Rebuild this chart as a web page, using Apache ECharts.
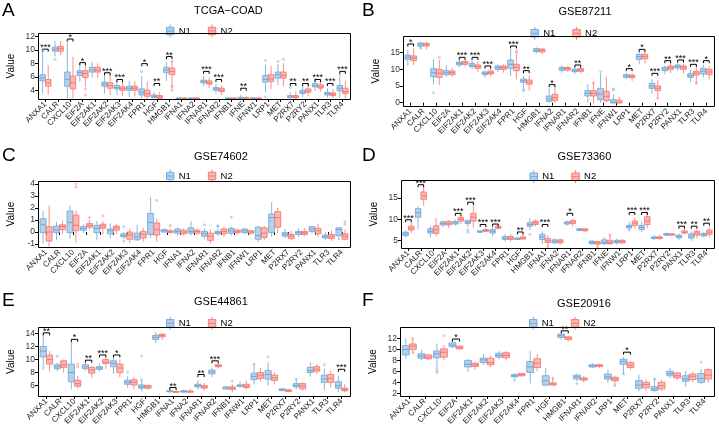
<!DOCTYPE html>
<html><head><meta charset="utf-8">
<script src="https://cdn.jsdelivr.net/npm/echarts@6/dist/echarts.min.js"></script>
<style>html,body{margin:0;padding:0;background:#fff}#c{width:719px;height:436px}</style>
</head><body><div id="c"></div>
<script>
// ---------- Panel A: TCGA-COAD ----------
const A_genes = ['ANXA1','CALR','CXCL10','EIF2A','EIF2AK1','EIF2AK2','EIF2AK3','EIF2AK4','FPR1','HGF','HMGB1','IFNA1','IFNA2','IFNAR1','IFNAR2','IFNB1','IFNE','IFNW1','LRP1','MET','P2RX7','P2RY2','PANX1','TLR3','TLR4'];
const A_N1 = [[3.5,5.4,5.8,6.3,9.7],[9.0,9.8,10.1,10.4,11.3],[2.8,4.6,5.6,6.7,11.0],[5.3,6.2,6.6,6.9,8.0],[5.9,6.7,7.0,7.4,8.2],[3.5,4.6,4.9,5.2,6.2],[3.3,4.2,4.4,4.7,5.4],[3.0,4.0,4.3,4.6,5.4],[2.8,3.3,3.7,4.2,6.1],[2.8,2.9,3.1,3.3,3.7],[5.4,6.6,7.0,7.4,8.2],[2.7,2.75,2.8,2.85,2.95],[2.7,2.75,2.8,2.85,2.95],[4.6,5.1,5.3,5.5,6.2],[3.5,4.0,4.2,4.4,4.9],[2.7,2.75,2.8,2.85,2.95],[2.7,2.75,2.85,2.95,3.3],[2.7,2.75,2.8,2.85,2.95],[3.7,5.2,5.6,6.2,7.7],[4.8,5.8,6.3,6.7,7.9],[2.8,2.9,3.0,3.2,3.7],[3.0,3.5,3.7,4.0,4.6],[3.9,4.5,4.7,5.0,5.8],[2.9,3.3,3.5,3.7,4.3],[2.9,3.9,4.3,4.7,6.0]];
const A_N2 = [[3.3,4.6,5.1,5.6,7.7],[9.2,9.8,10.2,10.5,11.3],[2.8,4.2,5.1,6.1,9.0],[4.5,5.9,6.5,6.9,8.0],[5.8,6.7,7.0,7.4,8.0],[3.3,4.3,4.7,5.1,6.3],[3.1,4.0,4.25,4.5,5.4],[3.1,4.0,4.3,4.6,5.3],[2.8,3.1,3.5,4.0,5.3],[2.7,2.8,3.0,3.2,3.7],[4.2,6.3,6.8,7.3,8.3],[2.7,2.75,2.8,2.85,2.95],[2.7,2.75,2.8,2.85,2.95],[4.3,4.9,5.1,5.4,5.9],[3.3,3.8,4.0,4.3,4.7],[2.7,2.75,2.8,2.85,2.95],[2.7,2.75,2.8,2.9,3.1],[2.7,2.75,2.8,2.85,2.95],[4.2,5.3,5.7,6.3,7.6],[4.6,5.8,6.2,6.7,8.0],[2.7,2.9,3.0,3.2,3.8],[3.1,3.7,3.9,4.2,5.0],[3.8,4.3,4.5,4.8,5.4],[2.8,3.2,3.4,3.6,4.2],[2.8,3.5,3.8,4.3,5.4]];
const A_sig = [['ANXA1',10.1,'***'],['CXCL10',11.6,'*'],['EIF2A',8.1,'*'],['EIF2AK2',6.6,'***'],['EIF2AK3',5.6,'***'],['FPR1',7.95,'*'],['HGF',5.0,'**'],['HMGB1',9.0,'**'],['IFNAR1',6.8,'***'],['IFNAR2',5.6,'***'],['IFNE',4.3,'**'],['P2RX7',5.0,'**'],['P2RY2',5.0,'**'],['PANX1',5.6,'***'],['TLR3',5.0,'***'],['TLR4',6.8,'***']];
const A_out = [['ANXA1',0,9.9],['ANXA1',0,10.1],['CALR',0,8.6],['CXCL10',0,11.3],['EIF2A',1,3.3],['EIF2A',1,4.2],['FPR1',0,7.7],['FPR1',0,6.8],['HMGB1',1,4.0],['HMGB1',1,4.6],['HMGB1',1,8.3],['LRP1',0,8.4],['LRP1',0,3.0],['MET',0,8.3],['MET',1,8.6],['P2RX7',0,4.4],['TLR4',0,6.3]];

// ---------- Panel B: GSE87211 ----------
const B_genes = ['ANXA1','CALR','CXCL10','EIF2A','EIF2AK1','EIF2AK2','EIF2AK3','EIF2AK4','FPR1','HGF','HMGB1','IFNA2','IFNAR1','IFNAR2','IFNB1','IFNE','IFNW1','LRP1','MET','P2RX7','P2RY2','PANX1','TLR3','TLR4'];
const B_N1 = [[11.0,13.0,13.6,14.3,15.8],[16.3,16.9,17.4,17.9,18.3],[5.5,7.8,9.0,10.2,13.0],[7.7,8.4,9.0,9.6,11.3],[10.6,11.3,11.8,12.2,12.8],[10.0,10.8,11.2,11.8,12.6],[7.5,8.4,8.8,9.2,9.6],[9.2,10.0,10.5,11.0,11.4],[8.0,10.3,11.5,12.8,16.0],[4.5,6.1,6.6,7.1,8.0],[14.8,15.3,15.7,16.2,16.6],[0,0.4,1.1,2.0,4.3],[9.0,9.7,10.2,10.6,11.2],[8.6,9.3,9.6,10.0,10.6],[0,2.0,2.8,3.6,5.5],[-0.1,0.9,2.6,4.3,8.8],[-0.2,-0.1,0.2,0.9,2.4],[7.0,7.6,8.0,8.4,9.0],[11.5,13.0,13.8,14.5,15.5],[2.8,4.3,5.0,5.8,7.0],[8.5,9.6,10.1,10.6,11.2],[9.5,10.4,10.9,11.3,12.0],[6.2,7.6,8.1,8.7,9.8],[7.6,8.6,9.5,10.3,11.4]];
const B_N2 = [[11.2,12.6,13.3,14.0,16.3],[16.0,17.0,17.4,17.8,18.2],[5.3,7.6,8.8,10.0,12.8],[7.8,8.4,9.0,9.5,10.5],[10.8,11.5,12.0,12.4,13.0],[9.3,10.3,10.8,11.3,12.4],[7.8,8.6,9.0,9.5,10.3],[9.0,10.0,10.5,11.0,11.5],[7.0,9.6,10.6,11.5,14.5],[3.6,5.5,6.1,6.8,8.1],[14.5,15.2,15.7,16.1,16.4],[0,0.6,1.5,2.5,4.6],[9.2,9.8,10.2,10.5,11.0],[8.8,9.4,9.8,10.2,10.8],[-0.2,2.0,2.8,3.6,6.2],[-0.1,0.6,1.9,3.4,7.8],[-0.2,-0.1,0.1,0.7,1.8],[6.5,7.5,7.9,8.3,8.8],[11.8,13.2,13.9,14.5,15.6],[1.3,3.6,4.3,5.0,6.8],[8.9,10.0,10.5,11.0,12.0],[8.7,10.0,10.5,11.0,11.7],[5.8,8.3,8.9,9.4,10.6],[7.0,8.4,9.2,10.0,10.9]];
const B_sig = [['ANXA1',17.6,'*'],['EIF2AK1',13.6,'***'],['EIF2AK2',13.6,'***'],['EIF2AK3',11.0,'***'],['FPR1',17.0,'***'],['HGF',9.6,'**'],['IFNA2',5.4,'*'],['IFNAR2',11.3,'**'],['LRP1',10.2,'*'],['MET',16.0,'*'],['P2RX7',8.8,'***'],['P2RY2',12.6,'**'],['PANX1',12.8,'***'],['TLR3',11.5,'***'],['TLR4',12.6,'*']];
const B_out = [['CXCL10',0,3.0],['FPR1',1,15.5],['FPR1',1,15.0],['HGF',0,3.6],['HGF',0,4.0],['IFNE',0,9.3],['IFNW1',0,4.2],['IFNW1',0,3.8],['IFNB1',1,6.0],['P2RX7',1,1.3],['TLR3',1,5.8],['CALR',0,16.3],['CXCL10',1,13.6]];

// ---------- Panel C: GSE74602 ----------
const C_genes = ['ANXA1','CALR','CXCL10','EIF2A','EIF2AK1','EIF2AK2','EIF2AK3','EIF2AK4','FPR1','HGF','IFNA1','IFNA2','IFNAR1','IFNAR2','IFNB1','IFNW1','LRP1','MET','P2RX7','P2RY2','PANX1','TLR3','TLR4'];
const C_N1 = [[-0.95,-0.05,0.6,1.1,1.75],[-0.7,-0.05,0.15,0.5,0.85],[-0.6,-0.05,0.8,1.75,2.2],[-0.1,0.15,0.3,0.45,0.65],[-0.7,-0.05,0.3,0.55,0.9],[-0.55,-0.15,0.1,0.25,0.7],[-0.6,-0.4,-0.3,-0.15,0.0],[-0.75,-0.65,-0.4,-0.1,0.6],[-0.5,-0.2,0.8,1.55,2.9],[-0.05,0.0,0.1,0.2,0.3],[-0.3,-0.1,0.05,0.25,0.4],[-0.3,-0.1,0.05,0.35,0.9],[-0.6,-0.35,-0.15,0.05,0.3],[-0.35,-0.15,-0.05,0.05,0.3],[-0.3,-0.1,0.1,0.3,0.45],[-0.2,-0.05,0.1,0.25,0.3],[-0.85,-0.6,-0.3,0.4,0.5],[-0.4,-0.05,1.2,1.5,2.5],[-0.5,-0.35,-0.2,-0.05,0.25],[-0.4,-0.2,-0.05,0.05,0.3],[-0.1,0.05,0.25,0.45,0.5],[-0.65,-0.5,-0.4,-0.25,0.0],[-0.7,-0.3,0.2,0.35,0.4]];
const C_N2 = [[-1.2,-0.75,0.0,0.45,2.2],[-0.2,0.2,0.45,0.6,0.95],[-0.9,0.1,0.55,1.4,1.8],[0.2,0.4,0.55,0.7,1.0],[-0.2,0.3,0.5,0.65,0.9],[-0.2,0.15,0.35,0.5,0.7],[-0.9,-0.6,-0.25,0.0,0.3],[-0.8,-0.5,-0.2,0.05,0.35],[-0.8,-0.25,0.2,0.75,1.1],[-0.1,-0.05,0.05,0.1,0.3],[-0.3,-0.15,0.0,0.15,0.3],[-0.2,-0.1,0.05,0.15,0.3],[-0.95,-0.7,-0.35,-0.1,0.2],[-0.4,-0.15,0.05,0.25,0.4],[-0.2,-0.05,0.05,0.15,0.3],[-0.2,-0.1,0.0,0.1,0.15],[-0.7,-0.45,-0.1,0.35,0.5],[-0.1,0.4,1.2,1.7,2.0],[-0.7,-0.55,-0.35,-0.2,0.1],[-0.35,-0.2,-0.05,0.05,0.3],[-0.4,-0.15,0.1,0.3,0.7],[-0.75,-0.55,-0.35,-0.2,0.15],[-0.7,-0.6,-0.35,-0.15,0.2]];
const C_sig = [];
const C_out = [['CXCL10',1,4.0],['CXCL10',1,3.75],['FPR1',1,2.65],['EIF2AK1',1,1.35],['EIF2A',1,1.2],['EIF2AK3',0,0.45],['EIF2AK3',0,-0.75],['IFNB1',0,1.25],['HGF',1,0.55],['IFNAR1',0,0.6],['IFNAR2',0,0.55],['IFNAR2',0,0.45],['TLR4',1,0.85],['TLR4',1,0.65]];

// ---------- Panel D: GSE73360 ----------
const D_genes = ['ANXA1','CALR','CXCL10','EIF2A','EIF2AK1','EIF2AK2','EIF2AK3','EIF2AK4','FPR1','HGF','HMGB1','IFNA1','IFNA2','IFNAR1','IFNAR2','IFNB1','IFNE','IFNW1','LRP1','MET','P2RX7','P2RY2','PANX1','TLR3','TLR4'];
const D_N1 = [[5.8,6.2,6.6,7.0,7.4],[7.8,10.5,11.5,12.5,13.0],[5.8,6.8,7.2,7.8,8.5],[8.2,8.7,9.0,9.4,9.8],[8.5,8.9,9.2,9.5,10.0],[8.3,9.0,9.3,9.7,10.0],[6.8,7.0,7.1,7.3,7.4],[6.0,6.8,7.2,7.6,8.3],[4.8,5.3,5.6,6.0,6.5],[5.1,5.3,5.45,5.6,5.9],[7.5,8.4,8.8,9.2,10.2],[4.2,5.3,5.9,6.5,7.2],[4.2,4.5,4.9,5.2,5.6],[8.5,8.9,9.2,9.4,9.7],[7.2,7.4,7.6,7.8,8.0],[4.0,4.3,4.6,4.9,5.3],[4.0,4.3,4.6,5.2,5.8],[4.1,4.5,4.8,5.1,5.5],[7.4,8.0,8.3,8.6,9.4],[7.0,7.6,8.1,8.6,9.5],[5.2,5.5,5.7,5.9,6.3],[6.1,6.3,6.5,6.7,6.9],[5.2,5.7,6.0,6.3,6.7],[5.0,5.6,6.1,6.6,7.2],[5.8,6.1,6.4,6.7,7.0]];
const D_N2 = [[6.8,7.5,7.9,8.4,9.3],[13.2,14.7,15.5,16.4,17.5],[6.0,6.7,7.6,8.5,10.3],[8.0,8.7,9.0,9.5,9.8],[8.9,9.6,10.0,10.4,11.0],[8.0,9.6,10.5,11.4,13.8],[7.0,7.2,7.4,7.6,7.9],[7.6,7.9,8.1,8.4,8.6],[4.7,5.3,5.6,6.0,6.6],[5.2,5.4,5.6,5.9,6.5],[8.4,8.8,9.2,9.6,10.0],[3.6,4.6,5.0,5.5,6.3],[4.2,4.5,4.9,5.2,5.5],[8.3,9.0,9.4,9.7,10.1],[7.1,7.3,7.5,7.8,8.0],[3.6,4.2,4.5,4.8,5.0],[4.0,4.3,4.6,5.1,6.4],[4.2,4.5,4.8,5.1,5.4],[7.8,8.6,9.1,9.6,10.4],[8.0,8.8,9.6,10.6,11.8],[5.2,5.5,5.7,5.9,6.3],[6.2,6.3,6.45,6.6,6.8],[6.5,6.8,7.0,7.3,7.6],[5.6,6.3,6.8,7.2,7.6],[5.8,6.5,7.0,7.5,8.1]];
const D_sig = [['ANXA1',9.9,'***'],['CALR',18.1,'***'],['EIF2AK1',11.4,'***'],['EIF2AK2',14.0,'***'],['EIF2AK3',8.8,'***'],['EIF2AK4',8.9,'***'],['HGF',7.05,'**'],['IFNA1',8.8,'***'],['IFNAR1',11.4,'*'],['LRP1',11.6,'***'],['MET',11.6,'***'],['PANX1',8.4,'***'],['TLR3',8.4,'**'],['TLR4',9.1,'**']];
const D_out = [['EIF2AK2',0,7.5],['EIF2AK2',0,7.0],['HMGB1',0,6.5],['IFNA1',1,3.6],['LRP1',0,7.5],['IFNE',1,6.4],['EIF2AK1',1,10.8],['IFNB1',1,3.5]];

// ---------- Panel E: GSE44861 ----------
const E_genes = ['ANXA1','CALR','CXCL10','EIF2AK1','EIF2AK2','EIF2AK3','FPR1','HGF','HMGB1','IFNA1','IFNA2','IFNAR1','IFNAR2','IFNB1','IFNW1','LRP1','MET','P2RX7','P2RY2','PANX1','TLR3','TLR4'];
const E_N1 = [[8.4,10.4,11.3,12.0,14.0],[8.2,8.6,8.9,9.2,9.5],[5.5,6.6,8.0,9.3,12.9],[8.3,8.6,8.9,9.2,9.5],[8.2,8.5,8.7,8.9,9.4],[7.8,8.9,9.4,9.8,10.2],[5.7,6.2,6.5,6.8,7.4],[5.1,5.6,5.85,6.1,6.8],[12.5,13.1,13.4,13.7,14.2],[4.95,5.05,5.1,5.2,5.3],[4.9,5.0,5.1,5.2,5.4],[5.4,5.8,6.0,6.2,6.8],[7.3,7.8,8.1,8.4,8.8],[5.3,5.5,5.6,5.8,6.0],[5.7,5.9,6.0,6.1,6.6],[6.2,6.9,7.4,7.9,9.3],[6.0,7.0,7.7,8.3,9.6],[5.1,5.25,5.35,5.5,5.6],[5.4,5.8,6.0,6.3,7.0],[7.4,8.0,8.3,8.8,9.6],[5.3,6.5,7.0,7.6,8.6],[5.0,5.6,6.0,6.6,7.5]];
const E_N2 = [[8.2,9.3,10.0,10.7,11.3],[8.0,8.8,9.2,9.8,10.0],[5.6,5.9,6.3,6.8,7.5],[7.2,7.9,8.4,8.8,9.0],[8.5,9.4,9.6,10.0,10.3],[7.3,8.0,8.7,9.3,10.0],[5.4,6.1,6.5,6.9,7.3],[5.4,5.6,5.8,6.0,6.2],[13.0,13.5,13.7,13.9,14.0],[4.9,5.0,5.05,5.1,5.2],[4.9,5.0,5.05,5.15,5.5],[5.2,5.6,5.8,6.0,6.4],[8.6,8.9,9.05,9.2,9.4],[5.0,5.4,5.6,5.8,6.2],[5.4,5.7,5.9,6.2,6.8],[6.6,7.1,7.6,8.0,8.7],[6.2,6.8,7.2,7.6,8.0],[5.0,5.1,5.2,5.35,5.5],[5.2,5.5,5.9,6.3,6.5],[7.8,8.2,8.5,8.9,9.3],[5.7,6.5,7.1,7.7,8.3],[5.0,5.2,5.4,5.6,6.2]];
const E_sig = [['ANXA1',14.1,'**'],['CXCL10',13.1,'*'],['EIF2AK1',9.9,'**'],['EIF2AK2',10.7,'***'],['EIF2AK3',10.7,'*'],['IFNA1',5.7,'**'],['IFNAR1',7.7,'**'],['IFNAR2',9.8,'***'],['TLR4',8.5,'***']];
const E_out = [['CALR',0,10.5],['HGF',0,10.6],['HGF',0,6.9],['CXCL10',1,9.3],['CXCL10',1,8.9],['FPR1',0,8.1],['MET',0,10.4],['TLR3',0,9.2],['IFNB1',1,6.7],['LRP1',0,9.3],['P2RY2',0,7.0]];

// ---------- Panel F: GSE20916 ----------
const F_genes = ['ANXA1','CALR','CXCL10','EIF2A','EIF2AK1','EIF2AK2','EIF2AK3','EIF2AK4','FPR1','HGF','HMGB1','IFNAR1','IFNAR2','LRP1','MET','P2RX7','P2RY2','PANX1','TLR3','TLR4'];
const F_N1 = [[8.3,9.0,10.0,10.7,12.0],[8.0,8.4,8.8,9.2,10.0],[6.8,8.5,9.2,9.7,11.1],[10.2,10.5,10.8,11.2,11.5],[5.9,6.8,7.3,8.0,8.3],[7.2,7.6,8.1,8.4,9.2],[8.2,8.6,8.9,9.3,9.7],[4.8,5.0,5.2,5.4,5.7],[3.8,5.8,6.8,7.8,9.7],[3.3,3.5,4.3,5.2,6.6],[11.8,12.2,12.5,12.8,13.1],[4.2,4.6,5.0,5.3,5.6],[6.6,6.8,7.0,7.2,7.5],[3.9,4.6,5.0,5.5,6.3],[5.5,7.3,7.8,8.2,8.6],[2.4,2.9,3.5,4.3,5.4],[2.2,2.5,2.8,3.2,4.8],[4.8,5.2,5.6,6.0,6.6],[3.2,4.2,4.6,5.2,6.1],[3.6,4.0,4.7,5.6,6.4]];
const F_N2 = [[9.4,10.0,10.6,11.0,12.0],[8.0,8.3,8.6,9.0,9.2],[8.0,8.6,9.5,10.1,10.8],[10.0,10.1,10.4,10.6,10.8],[6.3,6.9,7.2,7.5,7.6],[6.8,7.2,7.6,8.4,8.8],[8.0,8.5,8.9,9.4,9.7],[5.0,5.2,5.4,5.6,5.7],[6.0,6.7,7.5,8.3,9.2],[3.4,3.5,3.7,3.9,4.8],[11.5,11.8,12.1,12.3,12.5],[4.0,4.4,4.6,4.8,5.2],[6.6,6.9,7.05,7.2,7.4],[3.4,4.3,4.6,4.9,5.2],[6.2,6.7,7.1,7.6,8.0],[2.4,3.0,3.6,4.0,4.5],[2.4,2.8,3.4,4.0,4.5],[4.4,4.8,5.2,5.7,5.8],[4.0,4.5,5.1,5.5,5.9],[4.0,4.6,5.3,6.3,6.6]];
const F_sig = [['EIF2A',11.9,'*'],['HMGB1',13.4,'**'],['MET',9.5,'*']];
const F_out = [['CXCL10',0,6.5],['CXCL10',0,6.1],['CXCL10',0,5.8],['CXCL10',1,12.5],['ANXA1',1,12.0],['ANXA1',1,9.4],['EIF2AK4',0,4.4],['IFNAR1',0,3.8],['TLR4',0,7.7],['LRP1',1,3.4],['MET',0,5.5],['HGF',1,4.8],['P2RY2',0,4.6]];

// ---------- Panel meta ----------
const letters = ['A','B','C','D','E','F'];
const titles = ['TCGA\u2212COAD','GSE87211','GSE74602','GSE73360','GSE44861','GSE20916'];
const yMin = [2.7,-1,-1.25,3.3,4.4,1.5];
const yMax = [12.5,20,4.25,19.2,15.0,14.1];
const yTicks = [[4,6,8,10,12],[0,5,10,15],[-1,0,1,2,3,4],[5,10,15],[6,8,10,12,14],[2,4,6,8,10,12]];

const genesAll = [A_genes,B_genes,C_genes,D_genes,E_genes,F_genes];
const n1All = [A_N1,B_N1,C_N1,D_N1,E_N1,F_N1];
const n2All = [A_N2,B_N2,C_N2,D_N2,E_N2,F_N2];
const sigAll = [A_sig,B_sig,C_sig,D_sig,E_sig,F_sig];
const outAll = [A_out,B_out,C_out,D_out,E_out,F_out];

// layout (pixels) - panel boxes
const gridPos = [
  {left:38, top:33, width:312, height:66},
  {left:403, top:36, width:311, height:70},
  {left:38, top:181, width:312, height:66},
  {left:401, top:180, width:313, height:68},
  {left:38, top:327, width:312, height:69},
  {left:400, top:327, width:314, height:69}
];
const titleY = [11.7,12.7,157.7,158.3,303.3,304.5];
const legendY = [26,28.3,171,171.7,318.3,318.3];
const letterPos = [[2,1],[362,1],[2,146],[362,146],[2,291],[362,291]];

const N1_STROKE = '#76aad9', N1_FILL = 'rgba(118,170,217,0.55)';
const N2_STROKE = '#f67c74', N2_FILL = 'rgba(246,124,116,0.55)';
const FONT = 'Liberation Sans, Arial, sans-serif';

function boxRender(sign, stroke, fill) {
  return function (params, api) {
    const cat = api.value(0);
    const band = api.size([1, 0])[0];
    const off = sign * band * 0.225;
    const w = band * 0.44;
    const pMin = api.coord([cat, api.value(1)]);
    const pQ1 = api.coord([cat, api.value(2)]);
    const pMed = api.coord([cat, api.value(3)]);
    const pQ3 = api.coord([cat, api.value(4)]);
    const pMax = api.coord([cat, api.value(5)]);
    const x = pMin[0] + off;
    return {type:'group', children:[
      {type:'line', shape:{x1:x, y1:pMin[1], x2:x, y2:pQ1[1]}, style:{stroke:stroke, lineWidth:1, opacity:0.85}},
      {type:'line', shape:{x1:x, y1:pQ3[1], x2:x, y2:pMax[1]}, style:{stroke:stroke, lineWidth:1, opacity:0.85}},
      {type:'rect', shape:{x:x - w/2, y:pQ3[1], width:w, height:Math.max(pQ1[1] - pQ3[1], 0.8)}, style:{fill:fill, stroke:stroke, lineWidth:0.9}},
      {type:'line', shape:{x1:x - w/2, y1:pMed[1], x2:x + w/2, y2:pMed[1]}, style:{stroke:stroke, lineWidth:1.1}}
    ]};
  };
}

function sigRender(list) {
  return function (params, api) {
    const cat = api.value(0);
    const band = api.size([1, 0])[0];
    const p = api.coord([cat, api.value(1)]);
    const off = band * 0.225;
    const x1 = p[0] - off, x2 = p[0] + off, y = p[1];
    return {type:'group', children:[
      {type:'polyline', shape:{points:[[x1, y + 2.5],[x1, y],[x2, y],[x2, y + 2.5]]}, style:{stroke:'#000', fill:null, lineWidth:1}},
      {type:'text', x:p[0], y:y - 6, style:{text:list[params.dataIndex][2], textAlign:'center', textVerticalAlign:'top', fontSize:9, fontFamily:FONT, fill:'#000'}}
    ]};
  };
}

const legendIcon = 'path://M5,0L5,3M1,3L9,3L9,11L1,11ZM1,7L9,7M5,11L5,14';

const option = {
  animation:false,
  backgroundColor:'#fff',
  grid:[], xAxis:[], yAxis:[], series:[], legend:[], graphic:[]
};

for (let p = 0; p < 6; p++) {
  const g = gridPos[p];
  const genes = genesAll[p];
  const idx = name => genes.indexOf(name);
  // ggplot-like discrete expansion: 0.6 units on each side
  const unit = g.width / (genes.length + 0.2);
  const inset = 0.1 * unit;
  option.grid.push({left:g.left + inset, top:g.top, width:unit * genes.length, height:g.height, show:false, containLabel:false});
  option.graphic.push({type:'rect', shape:{x:g.left + 0.5, y:g.top + 0.5, width:g.width, height:g.height}, style:{fill:null, stroke:'#000', lineWidth:1}, z:100});
  option.xAxis.push({
    type:'category', gridIndex:p, data:genes,
    axisLine:{show:false},
    axisTick:{show:true, alignWithLabel:true, length:3, lineStyle:{color:'#000'}},
    axisLabel:{interval:0, rotate:45, fontSize:8, fontFamily:FONT, color:'#222', margin:4},
    splitLine:{show:false}
  });
  option.yAxis.push({
    type:'value', gridIndex:p, min:yMin[p], max:yMax[p], offset:inset,
    name:'Value', nameLocation:'middle', nameGap:22, nameRotate:90,
    nameTextStyle:{fontSize:10, fontFamily:FONT, color:'#000'},
    axisLine:{show:false},
    axisTick:{show:true, length:3, lineStyle:{color:'#000'}, customValues:yTicks[p]},
    axisLabel:{fontSize:8.5, fontFamily:FONT, color:'#333', margin:3, customValues:yTicks[p]},
    splitLine:{show:false}
  });
  const band = unit;
  option.series.push({
    type:'custom', name:'N1', xAxisIndex:p, yAxisIndex:p,
    itemStyle:{color:N1_STROKE},
    renderItem:boxRender(-1, N1_STROKE, N1_FILL),
    encode:{x:0, y:[1,2,3,4,5]},
    data:n1All[p].map((v, i) => [i].concat(v))
  });
  option.series.push({
    type:'custom', name:'N2', xAxisIndex:p, yAxisIndex:p,
    itemStyle:{color:N2_STROKE},
    renderItem:boxRender(1, N2_STROKE, N2_FILL),
    encode:{x:0, y:[1,2,3,4,5]},
    data:n2All[p].map((v, i) => [i].concat(v))
  });
  const outs = outAll[p];
  option.series.push({
    type:'scatter', name:'N1', xAxisIndex:p, yAxisIndex:p, symbolSize:3,
    symbolOffset:[-band * 0.225, 0],
    itemStyle:{color:N1_STROKE, opacity:0.45},
    data:outs.filter(o => o[1] === 0).map(o => [idx(o[0]), o[2]])
  });
  option.series.push({
    type:'scatter', name:'N2', xAxisIndex:p, yAxisIndex:p, symbolSize:3,
    symbolOffset:[band * 0.225, 0],
    itemStyle:{color:N2_STROKE, opacity:0.45},
    data:outs.filter(o => o[1] === 1).map(o => [idx(o[0]), o[2]])
  });
  const sig = sigAll[p];
  if (sig.length) {
    option.series.push({
      type:'custom', xAxisIndex:p, yAxisIndex:p, silent:true,
      renderItem:sigRender(sig),
      encode:{x:0, y:1},
      data:sig.map(s => [idx(s[0]), s[1]])
    });
  }
  const cx = g.left + g.width / 2;
  option.legend.push({
    left:cx - 33, top:legendY[p] - 7, orient:'horizontal',
    itemWidth:9, itemHeight:13, itemGap:17,
    textStyle:{fontSize:9.5, fontFamily:FONT, color:'#000', padding:[0,0,0,-1]},
    selectedMode:false,
    data:[
      {name:'N1', icon:legendIcon, itemStyle:{color:N1_FILL, borderColor:N1_STROKE, borderWidth:1}},
      {name:'N2', icon:legendIcon, itemStyle:{color:N2_FILL, borderColor:N2_STROKE, borderWidth:1}}
    ]
  });
  option.graphic.push({
    type:'text', left:cx, top:titleY[p] - 6.5,
    style:{text:titles[p], fontSize:11, fontFamily:FONT, fill:'#000', textAlign:'center'}
  });
  option.graphic.push({
    type:'text', left:letterPos[p][0], top:letterPos[p][1],
    style:{text:letters[p], fontSize:19, fontFamily:FONT, fill:'#000'}
  });
}

const chart = echarts.init(document.getElementById('c'), null, {renderer:'canvas'});
chart.setOption(option);
</script>
</body></html>
